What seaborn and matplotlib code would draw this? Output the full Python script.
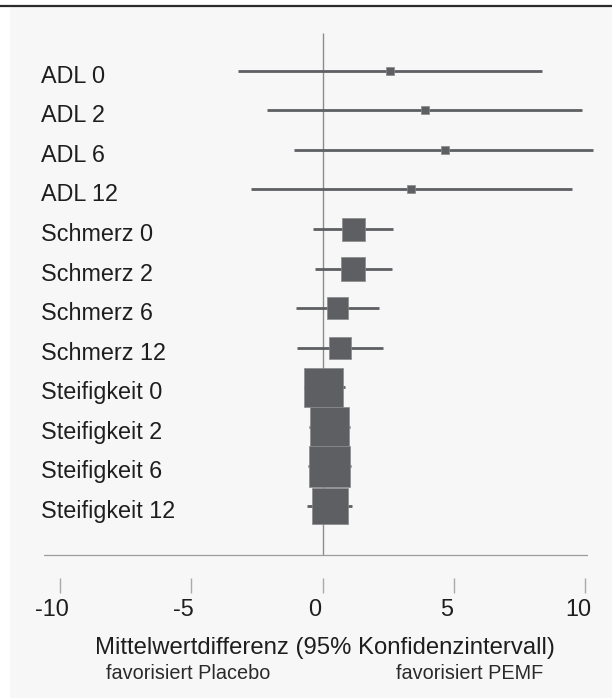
import numpy as np
import pandas as pd
import matplotlib
matplotlib.use("Agg")
import matplotlib.pyplot as plt
import matplotlib.transforms as mtransforms
from matplotlib.patches import Rectangle
from matplotlib.lines import Line2D
import seaborn as sns

# ---- data ----
labels = ["ADL 0", "ADL 2", "ADL 6", "ADL 12",
          "Schmerz 0", "Schmerz 2", "Schmerz 6", "Schmerz 12",
          "Steifigkeit 0", "Steifigkeit 2", "Steifigkeit 6", "Steifigkeit 12"]
mean_diff = [2.57, 3.88, 4.66, 3.36, 1.18, 1.16, 0.57, 0.67, 0.05, 0.27, 0.27, 0.28]
ci_low = [-3.21, -2.13, -1.08, -2.74, -0.38, -0.30, -1.03, -0.99, -0.72, -0.53, -0.55, -0.61]
ci_high = [8.35, 9.86, 10.29, 9.48, 2.68, 2.66, 2.14, 2.30, 0.85, 1.06, 1.07, 1.11]
weights = [0.64, 0.64, 0.64, 0.64, 5.29, 5.76, 4.62, 4.84, 15.2, 15.2, 16.4, 13.3]
xticks = [-10, -5, 0, 5, 10]
xtick_labels = ["-10", "-5", "0", "5", "10"]
xlabel = "Mittelwertdifferenz (95% Konfidenzintervall)"
favours_left = "favorisiert Placebo"
favours_right = "favorisiert PEMF"
favours_left_x = -5.12
favours_right_x = 5.6

# ---- style ----
sns.set_theme(style="white")
plt.rcParams['font.family'] = ['Liberation Sans', 'DejaVu Sans']
plt.rcParams['axes.unicode_minus'] = False

mark_color = "#5e5f63"
text_color = "#1e1e1e"

fig = plt.figure(figsize=(6.12, 6.98), dpi=100)
fig.patch.set_facecolor('white')
fig.patches.append(Rectangle((10 / 612, 0), 602 / 612, 1 - 7 / 698,
                             transform=fig.transFigure, facecolor='#f7f7f7',
                             edgecolor='none', zorder=-10))
fig.lines.append(Line2D([0, 1], [1 - 5.8 / 698] * 2, transform=fig.transFigure,
                        color='#2b2b2b', linewidth=1.6))

ax = fig.add_axes([44 / 612, 1 - 577.7 / 698, 544 / 612, 545 / 698])
ax.set_facecolor('none')

ypos = np.arange(len(labels))
df = pd.DataFrame(dict(y=ypos, label=labels, m=mean_diff, lo=ci_low, hi=ci_high, w=weights))

axis_line_y = 12.24

# zero line and horizontal axis line
ax.vlines(0, -0.961, axis_line_y, color="#8c8c8c", linewidth=1.0, zorder=1)
ax.axhline(axis_line_y, color="#9d9d9d", linewidth=0.9, zorder=1)

# confidence intervals
ax.hlines(df["y"], df["lo"], df["hi"], color=mark_color, linewidth=2.0,
          clip_on=False, zorder=2)

# boxes (area proportional to weight)
wmax = max(weights)
k = 51.84
sns.scatterplot(data=df, x="m", y="y", size="w", sizes=(0, wmax * k),
                size_norm=(0, wmax), marker="s", color=mark_color,
                edgecolor="#8a8a8a", linewidth=0.5, legend=False, ax=ax,
                zorder=3, clip_on=False)

ax.set_xlim(-10.6, 10.1)
ax.set_ylim(12.81, -0.961)

for s in ax.spines.values():
    s.set_visible(False)

ax.set_xticks(xticks, xtick_labels)
ax.tick_params(axis='x', bottom=True, length=10.5, width=1.0, color="#aaaaaa",
               pad=4.3, labelsize=16.8, labelcolor=text_color)
offset = mtransforms.ScaledTranslation(-7.5 / 100, 0, fig.dpi_scale_trans)
for lab in ax.get_xticklabels():
    lab.set_transform(lab.get_transform() + offset)

ax.set_yticks(ypos, labels)
ax.tick_params(axis='y', left=False, length=0, pad=2.2, labelsize=16.8,
               labelcolor=text_color)
yoff = mtransforms.ScaledTranslation(0, -3 / 100, fig.dpi_scale_trans)
for lab in ax.get_yticklabels():
    lab.set_horizontalalignment('left')
    lab.set_transform(lab.get_transform() + yoff)

ax.set_xlabel(xlabel, fontsize=17.2, color=text_color)
ax.set_ylabel("")
ax.xaxis.set_label_coords((325 - 44) / 544, -0.108)

bt = mtransforms.blended_transform_factory(ax.transData, fig.transFigure)
ax.text(favours_left_x, 1 - 673.5 / 698, favours_left, transform=bt, ha='center',
        va='center', fontsize=14.3, color="#2a2a2a")
ax.text(favours_right_x, 1 - 673.5 / 698, favours_right, transform=bt, ha='center',
        va='center', fontsize=14.3, color="#2a2a2a")

fig.savefig("out.png", dpi=100, facecolor=fig.get_facecolor())
